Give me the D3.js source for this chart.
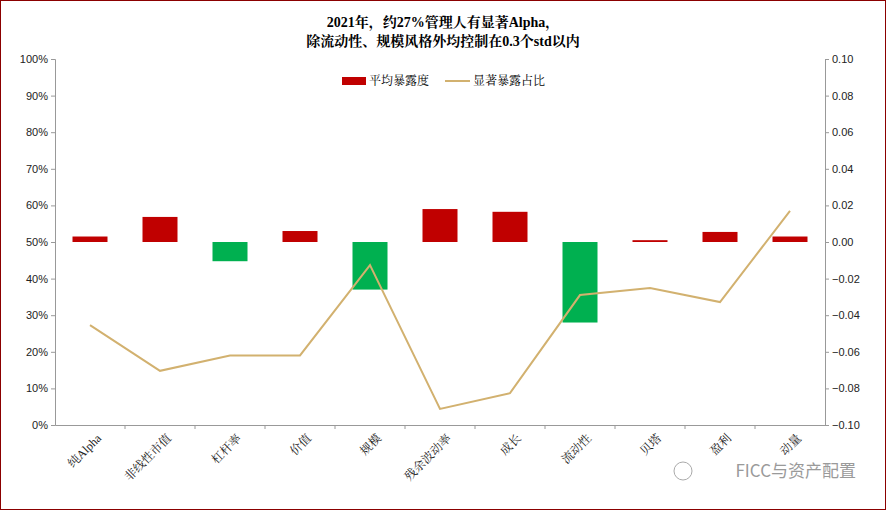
<!DOCTYPE html>
<html><head><meta charset="utf-8">
<script src="https://cdn.jsdelivr.net/npm/d3@7"></script>
<style>body{margin:0;background:#fff}svg{display:block}</style>
</head><body>
<svg id="c" width="886" height="510"></svg>
<script>
const categories=["纯Alpha","非线性市值","杠杆率","价值","规模","残余波动率","成长","流动性","贝塔","盈利","动量"];
const avgExposure=[0.003,0.0137,-0.0105,0.006,-0.026,0.018,0.0165,-0.044,0.001,0.0055,0.003];
const sigShare=[0.273,0.148,0.19,0.19,0.437,0.044,0.087,0.355,0.374,0.336,0.585];
const leftTicks=[0,0.1,0.2,0.3,0.4,0.5,0.6,0.7,0.8,0.9,1];
const rightTicks=[-0.1,-0.08,-0.06,-0.04,-0.02,0,0.02,0.04,0.06,0.08,0.1];
const svg=d3.select("#c");
const font="'Liberation Serif','Noto Serif CJK SC','Noto Sans CJK SC',serif";
svg.append("rect").attr("x",0.5).attr("y",0.5).attr("width",885).attr("height",509).attr("fill","#fff").attr("stroke","#8B0000").attr("stroke-width",1);
const L=55,R=825,T=59,B=425;
const x=d3.scaleBand().domain(categories).range([L,R]);
const yl=d3.scaleLinear().domain([0,1]).range([B,T]);
const yr=d3.scaleLinear().domain([-0.1,0.1]).range([B,T]);
svg.append("text").attr("x",443).attr("y",27).attr("text-anchor","middle").attr("font-family",font).attr("font-weight","bold").attr("font-size",14).text("2021年，约27%管理人有显著Alpha，");
svg.append("text").attr("x",443).attr("y",46).attr("text-anchor","middle").attr("font-family",font).attr("font-weight","bold").attr("font-size",14).text("除流动性、规模风格外均控制在0.3个std以内");
const la=svg.append("g").attr("transform",`translate(${L},0)`).call(d3.axisLeft(yl).tickValues(leftTicks).tickFormat(d3.format(".0%")).tickSize(4));
const ra=svg.append("g").attr("transform",`translate(${R},0)`).call(d3.axisRight(yr).tickValues(rightTicks).tickFormat(d3.format(".2f")).tickSize(4));
const ba=svg.append("g").attr("transform",`translate(0,${B})`).call(d3.axisBottom(x).tickSize(0).tickFormat(""));
[la,ra,ba].forEach(a=>{a.selectAll("path,line").attr("stroke","#999");a.selectAll("text").attr("font-family","'Liberation Sans',Arial,sans-serif").attr("font-size",11).attr("fill","#222");});
svg.append("g").selectAll("line").data(x.domain().slice(1)).join("line").attr("x1",d=>x(d)).attr("x2",d=>x(d)).attr("y1",B).attr("y2",B+4).attr("stroke","#999");
svg.append("g").selectAll("text").data(categories).join("text")
 .attr("transform",d=>`translate(${x(d)+x.bandwidth()/2+6},${B+8}) rotate(-45)`)
 .attr("text-anchor","end").attr("dy","0.7em").attr("font-family",font).attr("font-size",12).attr("fill","#222").text(d=>d);
const bw=35;
svg.append("g").selectAll("rect").data(categories).join("rect")
 .attr("x",d=>x(d)+x.bandwidth()/2-bw/2).attr("width",bw)
 .attr("y",(d,i)=>yr(Math.max(0,avgExposure[i]))).attr("height",(d,i)=>Math.abs(yr(avgExposure[i])-yr(0)))
 .attr("fill",(d,i)=>avgExposure[i]>=0?"#C00000":"#00B050");
svg.append("path").datum(sigShare).attr("fill","none").attr("stroke","#D2B16F").attr("stroke-width",2)
 .attr("d",d3.line().x((d,i)=>x(categories[i])+x.bandwidth()/2).y(d=>yl(d)));
const lg=svg.append("g").attr("font-family",font).attr("font-size",12);
lg.append("rect").attr("x",342).attr("y",77).attr("width",24).attr("height",8).attr("fill","#C00000");
lg.append("text").attr("x",369).attr("y",85).text("平均暴露度");
lg.append("line").attr("x1",445).attr("x2",470).attr("y1",81).attr("y2",81).attr("stroke","#D2B16F").attr("stroke-width",2);
lg.append("text").attr("x",473).attr("y",85).text("显著暴露占比");
svg.append("text").attr("x",856).attr("y",477).attr("text-anchor","end").attr("font-family","'Noto Sans CJK SC',sans-serif").attr("font-size",17).attr("fill","#9a9a9a").text("FICC与资产配置");
svg.append("circle").attr("cx",683).attr("cy",471).attr("r",9).attr("fill","none").attr("stroke","#aaa");
</script>
</body></html>
